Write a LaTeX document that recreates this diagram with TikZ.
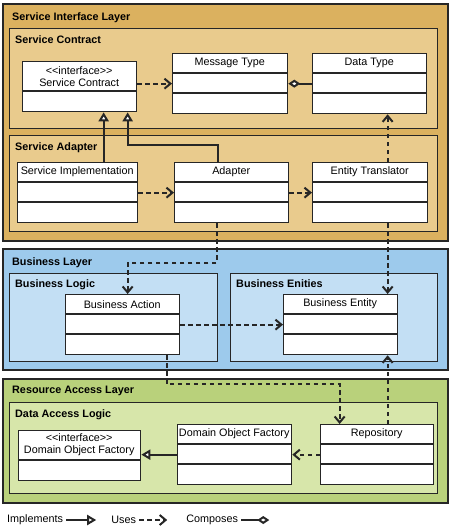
\documentclass[tikz,border=0pt]{standalone}
\usepackage{fontspec}
\setmainfont{Liberation Sans}
\usetikzlibrary{arrows.meta,positioning,calc}

\definecolor{silOuter}{HTML}{DBB15F}
\definecolor{silInner}{HTML}{E9CB8D}
\definecolor{blOuter}{HTML}{9DCAEC}
\definecolor{blInner}{HTML}{C3DFF4}
\definecolor{ralOuter}{HTML}{B9D17B}
\definecolor{ralInner}{HTML}{D7E6AA}
\definecolor{edge}{HTML}{262626}

% class box: name, x, y, width, header height, compartments, title
\newcommand{\umlclass}[7]{%
  \node[cls, minimum width=#4, minimum height={#5+20*#6}] (#1) at (#2,#3) {};
  \node[hdr, minimum width=#4, minimum height=#5] (#1-h) at (#2,#3) {#7};
  \foreach \k in {1,...,#6}
    \draw[clsline] ($(#1.north west)+(0,{#5+20*(\k-1)})$) -- ($(#1.north east)+(0,{#5+20*(\k-1)})$);
}

\begin{document}
\begin{tikzpicture}[
    x=1pt, y=-1pt,
    font=\fontsize{10.8}{12}\selectfont,
    layer/.style={rectangle, draw=edge, line width=1.5pt, anchor=north west, inner sep=0},
    group/.style={rectangle, draw=edge, line width=1.3pt, anchor=north west, inner sep=0},
    ttl/.style={font=\fontsize{10.8}{12}\selectfont\bfseries, inner sep=0},
    cls/.style={rectangle, draw=edge, fill=white, line width=1.3pt, anchor=north west, inner sep=0},
    hdr/.style={anchor=north west, inner sep=0, align=center},
    clsline/.style={draw=edge, line width=1.3pt},
    uses/.style={draw=edge, line width=2pt, dash pattern=on 4.5pt off 3.5pt, -{Straight Barb[length=6pt, width=10pt]}},
    impl/.style={draw=edge, line width=2pt, -{Triangle[fill=white, length=9pt, width=10pt]}},
    comp/.style={draw=edge, line width=2pt, {Diamond[fill=white, length=12pt, width=8pt]}-},
    legtext/.style={inner sep=3pt},
]
\useasboundingbox (0,0) rectangle (450,530);

% Layers
\node[layer, fill=silOuter, minimum width=445, minimum height=237] (sil) at (2,3) {};
\node[layer, fill=blOuter, minimum width=445, minimum height=121] (bl) at (2,248) {};
\node[layer, fill=ralOuter, minimum width=445, minimum height=124] (ral) at (2,378) {};
\node[ttl, below right=9pt and 10pt of sil.north west] (sil-t) {Service Interface Layer};
\node[ttl, below right=9pt and 10pt of bl.north west] (bl-t) {Business Layer};
\node[ttl, below right=8pt and 10pt of ral.north west] (ral-t) {Resource Access Layer};

% Groups
\node[group, fill=silInner, minimum width=428, minimum height=100] (contract) at (9,28) {};
\node[group, fill=silInner, minimum width=428, minimum height=96] (adapter) at (9,135) {};
\node[group, fill=blInner, minimum width=208, minimum height=88] (logic) at (9,273) {};
\node[group, fill=blInner, minimum width=207, minimum height=88] (entities) at (230,273) {};
\node[group, fill=ralInner, minimum width=428, minimum height=91] (dal) at (9,402) {};
\node[ttl, below right=7pt and 6pt of contract.north west] (contract-t) {Service Contract};
\node[ttl, below right=7pt and 6pt of adapter.north west] (adapter-t) {Service Adapter};
\node[ttl, below right=6pt and 6pt of logic.north west] (logic-t) {Business Logic};
\node[ttl, below right=6pt and 6pt of entities.north west] (entities-t) {Business Enities};
\node[ttl, below right=7pt and 6pt of dal.north west] (dal-t) {Data Access Logic};

% Classes
\umlclass{sc}{22}{61}{114}{30}{1}{<{}<interface>{}>\\Service Contract}
\umlclass{mt}{172}{53}{115}{20}{2}{Message Type}
\umlclass{dt}{312}{53}{114}{20}{2}{Data Type}
\umlclass{si}{17}{162}{120}{20}{2}{Service Implementation}
\umlclass{ad}{174}{162}{114}{20}{2}{Adapter}
\umlclass{et}{312}{162}{115}{20}{2}{Entity Translator}
\umlclass{ba}{65}{294}{114}{20}{2}{Business Action}
\umlclass{be}{283}{294}{114}{20}{2}{Business Entity}
\umlclass{idof}{18}{430}{122}{30}{1}{<{}<interface>{}>\\Domain Object Factory}
\umlclass{dof}{177}{424}{114}{20}{2}{Domain Object Factory}
\umlclass{repo}{320}{424}{113}{20}{2}{Repository}

% Connectors
\draw[uses] (sc.east |- mt) -- (mt.west);
\draw[comp] (mt.east) -- (dt.west);
\draw[impl] ([xshift=24pt]sc.south |- si.north) -- ([xshift=24pt]sc.south);
\draw[impl] ([xshift=-14pt]ad.north) |- ([xshift=48pt,yshift=-33pt]sc.south) -- ([xshift=48pt]sc.south);
\draw[uses] (si) -- (ad);
\draw[uses] (ad) -- (et);
\draw[uses] ([xshift=17.5pt]et.north) -- ([xshift=17.5pt]et.north |- dt.south);
\draw[uses] ([xshift=-15pt]ad.south) |- ([xshift=5pt,yshift=31pt]ba.north) -- ([xshift=5pt]ba.north);
\draw[uses] ([xshift=17.5pt]et.south) -- ([xshift=17.5pt]et.south |- be.north);
\draw[uses] (ba) -- (be);
\draw[uses] ([xshift=44pt]ba.south) |- ([xshift=-37.5pt,yshift=40pt]repo.north) -- ([xshift=-37.5pt]repo.north);
\draw[uses] ([xshift=10.5pt]repo.north) -- ([xshift=10.5pt]repo.north |- be.south);
\draw[impl] (dof.west) -- (dof.west -| idof.east);
\draw[uses] (repo.west) -- (repo.west -| dof.east);

% Legend
\node[legtext, anchor=west] (leg-impl) at (4,520) {Implements};
\coordinate[right=30pt of leg-impl] (leg-impl-end);
\draw[impl] (leg-impl) -- (leg-impl-end);
\node[legtext, right=12pt of leg-impl-end] (leg-uses) {Uses};
\coordinate[right=28pt of leg-uses] (leg-uses-end);
\draw[uses] (leg-uses) -- (leg-uses-end);
\node[legtext, right=16pt of leg-uses-end] (leg-comp) {Composes};
\coordinate[right=28pt of leg-comp] (leg-comp-end);
\draw[comp] (leg-comp-end) -- (leg-comp);

\end{tikzpicture}
\end{document}
